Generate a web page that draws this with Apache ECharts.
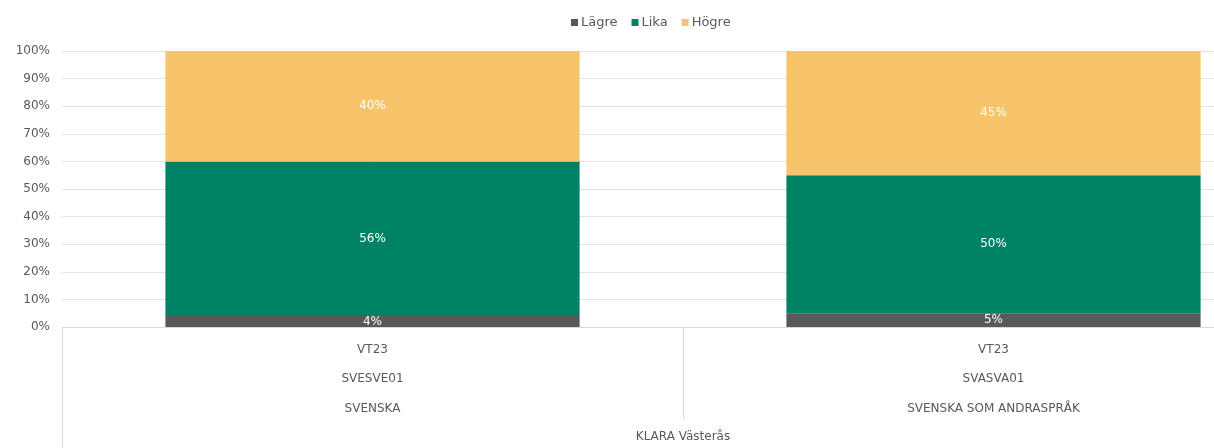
<!DOCTYPE html>
<html>
<head>
<meta charset="utf-8">
<script src="https://cdn.jsdelivr.net/npm/echarts@6/dist/echarts.min.js"></script>
<style>
  html, body { margin: 0; padding: 0; background: #fff; overflow: hidden; }
  #chart { width: 1310px; height: 448px; }
</style>
</head>
<body>
<div id="chart"></div>
<script>
const terms = ['VT23', 'VT23']
const courseCodes = ['SVESVE01', 'SVASVA01']
const subjects = ['SVENSKA', 'SVENSKA SOM ANDRASPRÅK']
const school = 'KLARA Västerås'
const lagre = [4, 5]
const lika = [56, 50]
const hogre = [40, 45]

const textColor = '#595959'
const fontFamily = '"DejaVu Sans", sans-serif'

const categories = terms.map((t, i) => t + '\n' + courseCodes[i] + '\n' + subjects[i])

const chart = echarts.init(document.getElementById('chart'))

function barSeries(name, data, color) {
  return {
    name: name,
    type: 'bar',
    stack: 'total',
    barWidth: '66.7%',
    data: data,
    itemStyle: { color: color },
    label: {
      show: true,
      position: 'inside',
      color: '#ffffff',
      fontSize: 12,
      fontFamily: fontFamily,
      formatter: p => p.value + '%'
    }
  }
}

chart.setOption({
  animation: false,
  textStyle: { fontFamily: fontFamily, color: textColor },
  legend: {
    top: 11,
    left: 566,
    itemWidth: 7,
    itemHeight: 7,
    itemGap: 14,
    icon: 'rect',
    textStyle: { fontSize: 13, color: textColor, padding: [0, 0, 0, -2] },
    data: ['Lägre', 'Lika', 'Högre']
  },
  grid: { left: 62, top: 51, width: 1242, height: 276 },
  xAxis: [
    {
      type: 'category',
      data: categories,
      axisLine: { lineStyle: { color: '#d9d9d9' } },
      axisTick: { show: true, length: 92, lineStyle: { color: '#d9d9d9' } },
      axisLabel: {
        color: textColor,
        fontSize: 12,
        lineHeight: 29.5,
        margin: 8
      }
    },
    {
      type: 'category',
      position: 'bottom',
      data: [school],
      axisLine: { show: false },
      axisTick: { show: true, length: 125, lineStyle: { color: '#d9d9d9' } },
      axisLabel: { color: textColor, fontSize: 12, margin: 104 }
    }
  ],
  yAxis: {
    type: 'value',
    min: 0,
    max: 100,
    interval: 10,
    axisLine: { show: false },
    axisTick: { show: false },
    splitLine: { lineStyle: { color: '#e3e3e3' } },
    axisLabel: { color: textColor, fontSize: 12, margin: 12, formatter: '{value}%' }
  },
  series: [
    barSeries('Lägre', lagre, '#595959'),
    barSeries('Lika', lika, '#008264'),
    barSeries('Högre', hogre, '#f7c46c')
  ]
})
</script>
</body>
</html>
